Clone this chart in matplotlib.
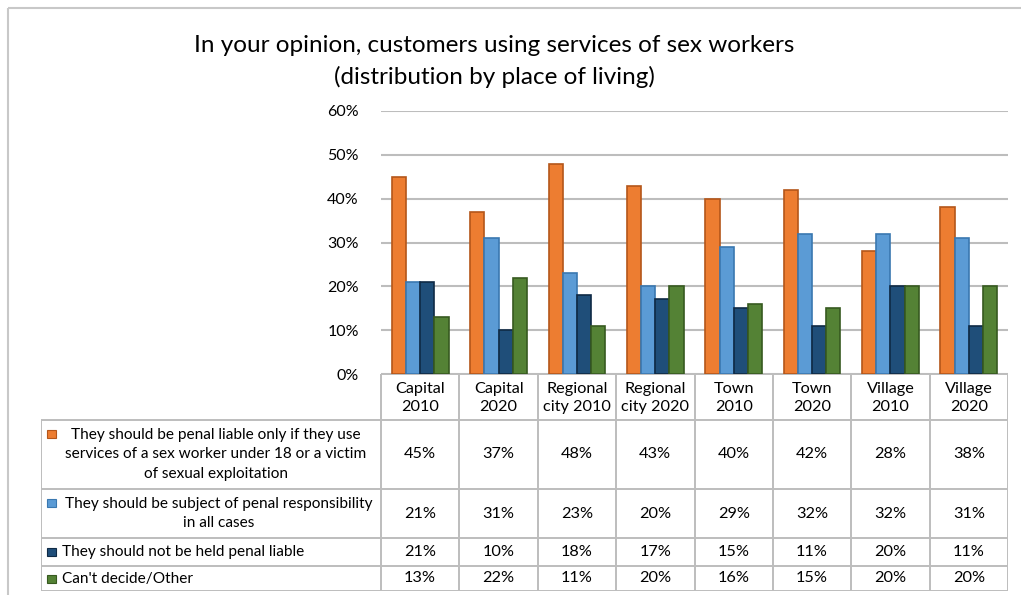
import matplotlib.pyplot as plt
from matplotlib.patches import Rectangle
from matplotlib.ticker import PercentFormatter

plt.rcParams['font.family'] = ['Lato', 'DejaVu Sans']

categories = ['Capital\n2010', 'Capital\n2020', 'Regional\ncity 2010', 'Regional\ncity 2020',
              'Town\n2010', 'Town\n2020', 'Village\n2010', 'Village\n2020']
series_names = [
    'They should be penal liable only if they use\nservices of a sex worker under 18 or a victim\nof sexual exploitation',
    'They should be subject of penal responsibility\nin all cases',
    'They should not be held penal liable',
    "Can't decide/Other",
]
penal_if_minor = [45, 37, 48, 43, 40, 42, 28, 38]
penal_all_cases = [21, 31, 23, 20, 29, 32, 32, 31]
not_liable = [21, 10, 18, 17, 15, 11, 20, 11]
cant_decide = [13, 22, 11, 20, 16, 15, 20, 20]
series = [penal_if_minor, penal_all_cases, not_liable, cant_decide]

colors = ['#ED7D31', '#5B9BD5', '#1F4E79', '#548235']
edges = ['#B4561A', '#3A78B0', '#0F2A45', '#375A20']

W, H = 1021, 595
fig = plt.figure(figsize=(W / 100, H / 100), dpi=100)


def px_box(x0, y0, x1, y1):
    return [x0 / W, 1 - y1 / H, (x1 - x0) / W, (y1 - y0) / H]


# outer frame
frame = fig.add_axes([0, 0, 1, 1])
frame.set_xlim(0, W)
frame.set_ylim(H, 0)
frame.axis('off')
frame.add_patch(Rectangle((8, 8), W + 20, H + 20, fill=False, ec='#C8C8C8', lw=1.5))

fig.text(494 / W, 1 - 45 / H, 'In your opinion, customers using services of sex workers',
         ha='center', va='center', fontsize=17.5)
fig.text(494 / W, 1 - 77 / H, '(distribution by place of living)',
         ha='center', va='center', fontsize=17.5)

# bar chart
plot_left, plot_right, plot_top, plot_bottom = 381, 1008, 111, 374
ax = fig.add_axes(px_box(plot_left, plot_top, plot_right, plot_bottom))
n = len(categories)
bw = 0.181
for k, (vals, c, e) in enumerate(zip(series, colors, edges)):
    xs = [i + (k - 1.5) * bw for i in range(n)]
    ax.bar(xs, [v / 100 for v in vals], width=bw, color=c, edgecolor=e, linewidth=1.2, zorder=3)
ax.set_xlim(-0.5, n - 0.5)
ax.set_ylim(0, 0.6)
ax.set_yticks([0, 0.1, 0.2, 0.3, 0.4, 0.5, 0.6])
ax.yaxis.set_major_formatter(PercentFormatter(1.0, decimals=0))
ax.grid(axis='y', color='#BDBDBD', lw=1.5, zorder=0)
ax.set_xticks([])
for s in ax.spines.values():
    s.set_visible(False)
ax.tick_params(axis='y', length=0, pad=16, labelsize=11.5)

# data table below the chart
col_w = (plot_right - plot_left) / n
table_left = 41
rows_y = [374, 420, 489, 538, 566, 591]
tax = fig.add_axes(px_box(table_left, rows_y[0], plot_right, rows_y[-1]))
x_left = -0.5 - (plot_left - table_left) / col_w
tax.set_xlim(x_left, n - 0.5)
tax.set_ylim(rows_y[-1], rows_y[0])
tax.axis('off')
line_kw = dict(color='#BDBDBD', lw=1.4, solid_capstyle='projecting')

# horizontal rules
tax.plot([-0.5, n - 0.5], [rows_y[0]] * 2, **line_kw)
for y in rows_y[1:]:
    tax.plot([x_left, n - 0.5], [y, y], **line_kw)
# vertical rules
tax.plot([x_left, x_left], [rows_y[1], rows_y[-1]], **line_kw)
for i in range(n + 1):
    tax.plot([i - 0.5, i - 0.5], [rows_y[0], rows_y[-1]], **line_kw)

fs_cell = 11.7
fs_label = 11.1
for i, cat in enumerate(categories):
    tax.text(i, (rows_y[0] + rows_y[1]) / 2 + 1, cat, ha='center', va='center',
             fontsize=fs_cell, linespacing=1.3)

label_centers = [216, 219]
text_start = x_left + (62 - table_left) / col_w
marker_x = x_left + (47 - table_left) / col_w
for r, (name, vals, c, e) in enumerate(zip(series_names, series, colors, edges)):
    y0, y1 = rows_y[r + 1], rows_y[r + 2]
    yc = (y0 + y1) / 2
    for i, v in enumerate(vals):
        tax.text(i, yc, f'{v}%', ha='center', va='center', fontsize=fs_cell)
    nlines = name.count('\n') + 1
    line_h = 21
    first_y = yc - (nlines - 1) * line_h / 2
    if nlines > 1:
        cx = x_left + (label_centers[r] - table_left) / col_w
        tax.text(cx, yc, name, ha='center', va='center', fontsize=fs_label,
                 linespacing=1.5)
    else:
        tax.text(text_start, yc, name, ha='left', va='center', fontsize=fs_label)
    tax.add_patch(Rectangle((marker_x, first_y - 4), 9 / col_w, 8, fc=c, ec=e, lw=0.8))

fig.savefig('out.png', dpi=100)
